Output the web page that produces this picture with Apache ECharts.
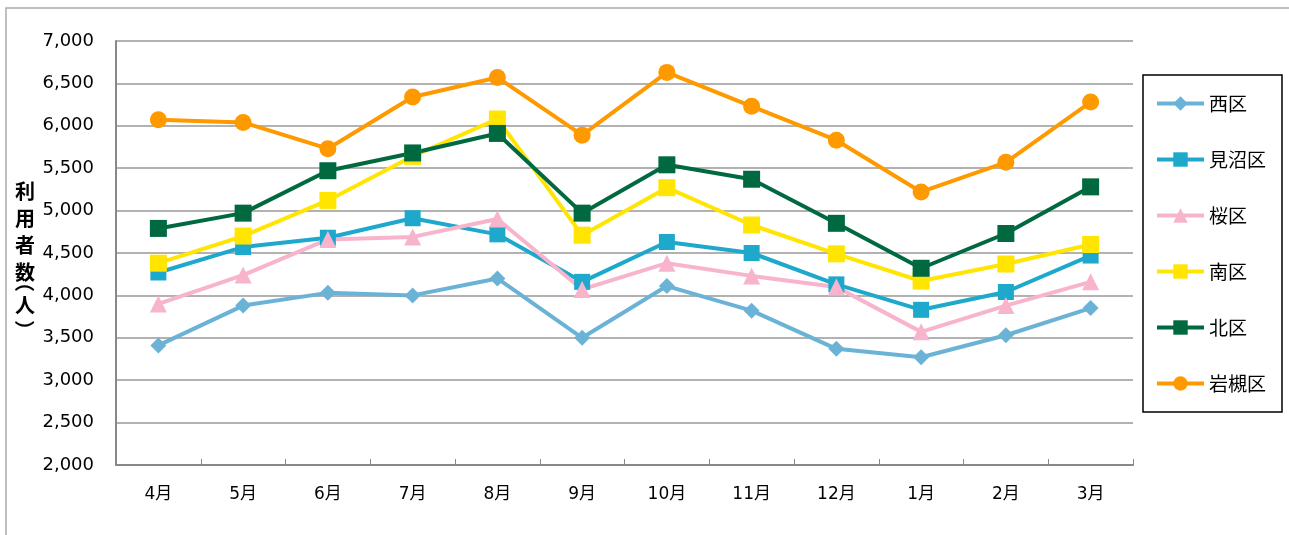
<!DOCTYPE html>
<html>
<head>
<meta charset="utf-8">
<script src="https://cdn.jsdelivr.net/npm/echarts@6/dist/echarts.min.js"></script>
<style>
  html, body { margin:0; padding:0; background:#fff; }
  #main { width:1289px; height:535px; }
</style>
</head>
<body>
<div id="main"></div>
<script>
// 月
const months = ['4月','5月','6月','7月','8月','9月','10月','11月','12月','1月','2月','3月']

// 区別の利用者数
const nishi    = [3410, 3880, 4030, 4000, 4200, 3500, 4110, 3820, 3370, 3270, 3530, 3850]
const minuma   = [4270, 4570, 4680, 4910, 4720, 4160, 4630, 4500, 4130, 3830, 4040, 4470]
const sakura   = [3900, 4240, 4660, 4690, 4900, 4070, 4380, 4230, 4100, 3570, 3880, 4160]
const minami   = [4380, 4700, 5120, 5640, 6080, 4710, 5270, 4830, 4490, 4170, 4370, 4600]
const kita     = [4790, 4970, 5470, 5680, 5910, 4970, 5540, 5370, 4850, 4320, 4730, 5280]
const iwatsuki = [6070, 6040, 5730, 6340, 6570, 5890, 6630, 6230, 5830, 5220, 5570, 6280]

const FONT = 'DejaVu Sans, "Noto Sans CJK JP", sans-serif'
const JP   = '"Noto Sans CJK JP", sans-serif'

function line(name, data, color, symbol, size) {
  return {
    name, type:'line', data,
    symbol, symbolSize:size,
    lineStyle:{ color, width:4 },
    itemStyle:{ color },
    emphasis:{ disabled:true },
    animation:false
  }
}

// 縦書きの括弧（回転させて描く）
function paren(ch, x, y) {
  return { type:'text', x, y, rotation:-Math.PI/2, silent:true,
    style:{ text:ch, font:'bold 20px ' + JP, fill:'#000', align:'center', verticalAlign:'middle' } }
}

const chart = echarts.init(document.getElementById('main'))
chart.setOption({
  animation:false,
  grid:{ left:116, right:156, top:41, bottom:70, containLabel:false },
  legend:{
    orient:'vertical',
    left:1143, top:75,
    padding:[19, 16, 19, 12],
    itemGap:37,
    itemWidth:47, itemHeight:18,
    borderColor:'#000', borderWidth:1.5,
    lineStyle:{ width:4 },
    textStyle:{ fontFamily:JP, fontSize:19, color:'#000', lineHeight:18 },
    data:['西区','見沼区','桜区','南区','北区','岩槻区']
  },
  xAxis:{
    type:'category',
    data:months,
    boundaryGap:true,
    axisLine:{ lineStyle:{ color:'#888', width:2 } },
    axisTick:{ show:true, inside:true, length:6, lineStyle:{ color:'#888', width:1 } },
    axisLabel:{ margin:21, fontFamily:FONT, fontSize:17, color:'#000' }
  },
  yAxis:{
    type:'value',
    min:2000, max:7000, interval:500,
    axisLine:{ show:true, lineStyle:{ color:'#888', width:2 } },
    axisTick:{ show:false },
    splitLine:{ lineStyle:{ color:'#999', width:1.5 } },
    axisLabel:{
      margin:22, fontFamily:FONT, fontSize:18, color:'#000',
      formatter:v => v.toLocaleString('en-US')
    }
  },
  graphic:[
    { type:'rect', silent:true, z:-1,
      shape:{ x:6, y:8, width:1320, height:600 },
      style:{ fill:'none', stroke:'#aaa', lineWidth:1.5 } },
    { type:'text', left:15, top:178, silent:true,
      style:{ text:'利\n用\n者\n数', font:'bold 20px ' + JP, lineHeight:27, fill:'#000' } },
    paren('（', 25, 282),
    { type:'text', left:15, top:295, silent:true,
      style:{ text:'人', font:'bold 20px ' + JP, fill:'#000' } },
    paren('）', 25, 330)
  ],
  series:[
    line('西区', nishi, '#6BB3D6', 'diamond', 16),
    line('見沼区', minuma, '#1EA9CC', 'rect', 16),
    line('桜区', sakura, '#F8B4CD', 'triangle', 17),
    line('南区', minami, '#FFE500', 'rect', 17),
    line('北区', kita, '#006940', 'rect', 17),
    line('岩槻区', iwatsuki, '#FF9900', 'circle', 17)
  ]
})
</script>
</body>
</html>
